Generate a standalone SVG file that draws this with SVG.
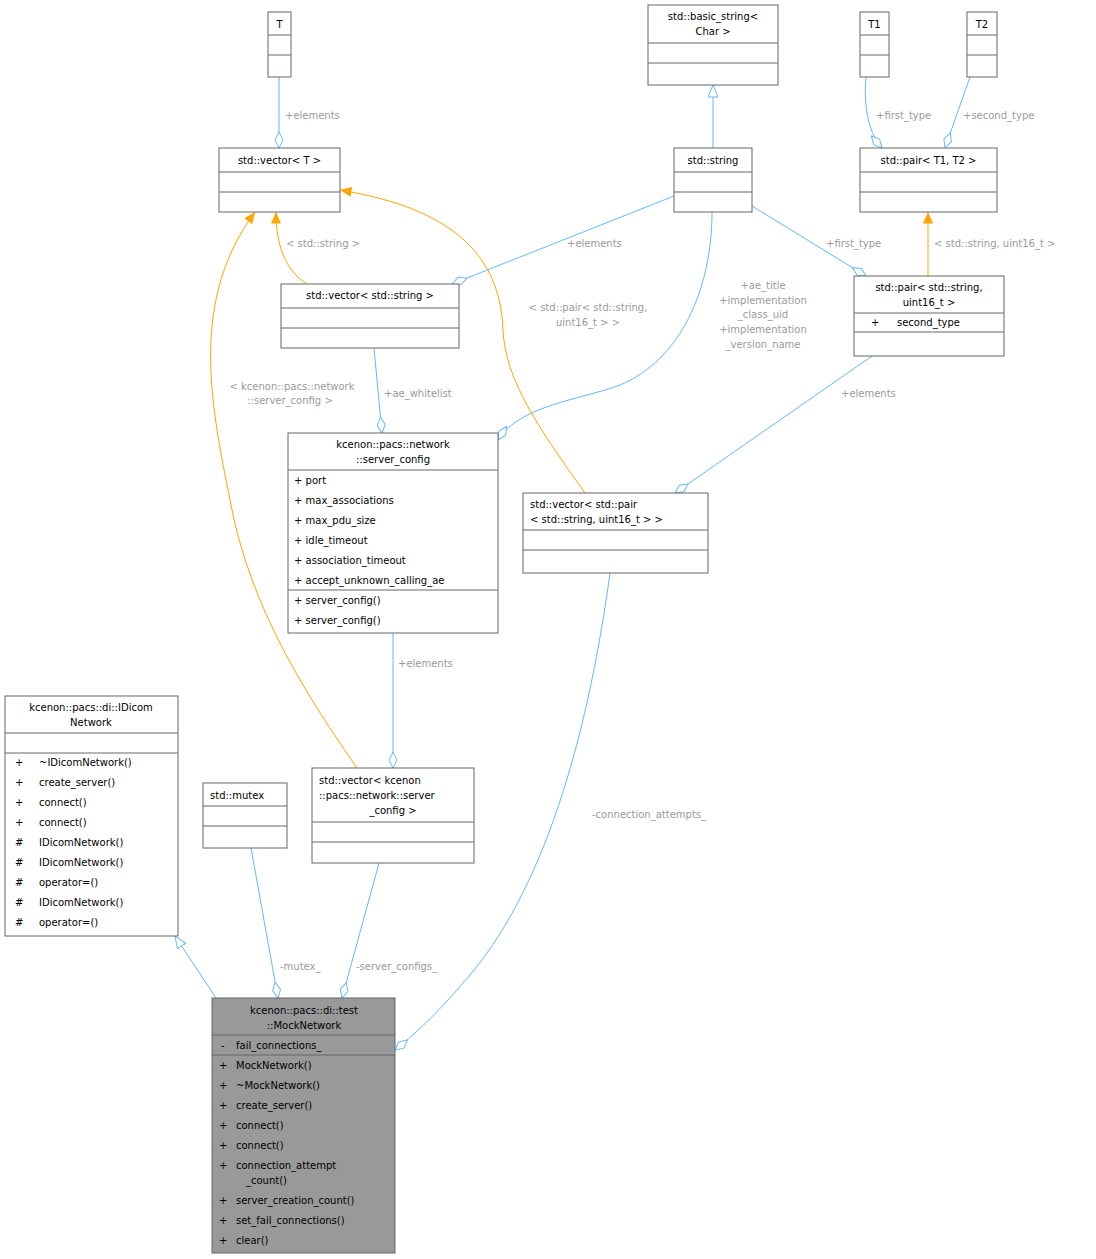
<svg xmlns="http://www.w3.org/2000/svg" width="1096" height="1259" viewBox="0 0 1096 1259">
<style>
text{font-family:"DejaVu Sans","Liberation Sans",sans-serif;font-size:10px;fill:#000}
.n rect,.n line{stroke:#666;stroke-width:1;fill:#fff}
.n line{fill:none}
.g rect{fill:#999}
.c text{fill:#9a9a9a}
.c path{fill:none;stroke-width:1}
.b{stroke:#63b8ff}
.o{stroke:#ffa500}
.m{text-anchor:middle}
</style>
<defs>
<marker id="d" markerUnits="userSpaceOnUse" viewBox="0 0 17 9" refX="16.5" refY="4.5" markerWidth="17" markerHeight="9" orient="auto"><path d="M0.5,4.5 L8.5,0.5 L16.5,4.5 L8.5,8.5 Z" fill="#fff" stroke="#63b8ff"/></marker>
<marker id="a" markerUnits="userSpaceOnUse" viewBox="0 0 12 10" refX="11.5" refY="5" markerWidth="12" markerHeight="10" orient="auto"><path d="M0,0 L11.5,5 L0,10 Z" fill="#ffa500"/></marker>
<marker id="t" markerUnits="userSpaceOnUse" viewBox="0 0 13 11" refX="12.5" refY="5.5" markerWidth="13" markerHeight="11" orient="auto"><path d="M0.5,0.5 L12.5,5.5 L0.5,10.5 Z" fill="#fff" stroke="#63b8ff"/></marker>
</defs>
<g class="c">
<path class="b" d="M279,77 L279,148" marker-end="url(#d)"/><text x="285" y="119">+elements</text>
<path class="b" d="M713,148 L713,85" marker-end="url(#t)"/>
<path class="b" d="M866,77 C864,100 866,130 882,148" marker-end="url(#d)"/><text x="876" y="119">+first_type</text>
<path class="b" d="M970,77 L945,148" marker-end="url(#d)"/><text x="963" y="119">+second_type</text>
<path class="o" d="M307,284 C285,270 276,245 276,212" marker-end="url(#a)"/><text x="286" y="247">&lt; std::string &gt;</text>
<path class="b" d="M674,196 L452,284" marker-end="url(#d)"/><text x="567" y="247">+elements</text>
<path class="b" d="M752,206 L866,276" marker-end="url(#d)"/><text x="826" y="247">+first_type</text>
<path class="o" d="M928,276 L928,212" marker-end="url(#a)"/><text x="934" y="247">&lt; std::string, uint16_t &gt;</text>
<path class="b" d="M712,212 C712,290 680,360 620,385 C580,400 520,405 498,440" marker-end="url(#d)"/>
<text class="m" x="763" y="289">+ae_title</text><text class="m" x="763" y="304">+implementation</text><text class="m" x="763" y="318">_class_uid</text><text class="m" x="763" y="333">+implementation</text><text class="m" x="763" y="348">_version_name</text>
<path class="o" d="M585,493 C540,430 505,380 503,330 C500,240 430,205 340,190" marker-end="url(#a)"/><text class="m" x="588" y="311">&lt; std::pair&lt; std::string,</text><text class="m" x="588" y="326">uint16_t &gt; &gt;</text>
<path class="b" d="M872,356 L675,493" marker-end="url(#d)"/><text x="841" y="397">+elements</text>
<path class="b" d="M374,348 L382,433" marker-end="url(#d)"/><text x="384" y="397">+ae_whitelist</text>
<path class="o" d="M357,768 C310,700 250,610 230,500 C210,400 190,300 255,212" marker-end="url(#a)"/><text class="m" x="292" y="390">&lt; kcenon::pacs::network</text><text class="m" x="290" y="404">::server_config &gt;</text>
<path class="b" d="M393,633 L393,768" marker-end="url(#d)"/><text x="398" y="667">+elements</text>
<path class="b" d="M216,998 L175,936" marker-end="url(#t)"/>
<path class="b" d="M251,848 L278,998" marker-end="url(#d)"/><text x="280" y="970">-mutex_</text>
<path class="b" d="M379,863 L342,998" marker-end="url(#d)"/><text x="356" y="970">-server_configs_</text>
<path class="b" d="M610,573 C590,720 550,880 470,975 C440,1010 420,1030 395,1050" marker-end="url(#d)"/><text x="592" y="818">-connection_attempts_</text>
</g>
<g id="T" class="n"><rect x="268" y="12" width="23" height="65"/><line x1="268" y1="35" x2="291" y2="35"/><line x1="268" y1="55" x2="291" y2="55"/><text class="m" x="279.5" y="28">T</text></g>
<g id="basic_string" class="n"><rect x="648" y="5" width="130" height="80"/><line x1="648" y1="43" x2="778" y2="43"/><line x1="648" y1="63" x2="778" y2="63"/><text class="m" x="713" y="20">std::basic_string&lt;</text><text class="m" x="713" y="35">Char &gt;</text></g>
<g id="T1" class="n"><rect x="860" y="12" width="29" height="65"/><line x1="860" y1="35" x2="889" y2="35"/><line x1="860" y1="55" x2="889" y2="55"/><text class="m" x="874.5" y="28">T1</text></g>
<g id="T2" class="n"><rect x="967" y="12" width="30" height="65"/><line x1="967" y1="35" x2="997" y2="35"/><line x1="967" y1="55" x2="997" y2="55"/><text class="m" x="982" y="28">T2</text></g>
<g id="vectorT" class="n"><rect x="219" y="148" width="121" height="64"/><line x1="219" y1="172" x2="340" y2="172"/><line x1="219" y1="192" x2="340" y2="192"/><text class="m" x="279.5" y="164">std::vector&lt; T &gt;</text></g>
<g id="string" class="n"><rect x="674" y="148" width="78" height="64"/><line x1="674" y1="172" x2="752" y2="172"/><line x1="674" y1="192" x2="752" y2="192"/><text class="m" x="713" y="164">std::string</text></g>
<g id="pairT" class="n"><rect x="860" y="148" width="137" height="64"/><line x1="860" y1="172" x2="997" y2="172"/><line x1="860" y1="192" x2="997" y2="192"/><text class="m" x="928.5" y="164">std::pair&lt; T1, T2 &gt;</text></g>
<g id="vectorString" class="n"><rect x="281" y="284" width="178" height="64"/><line x1="281" y1="308" x2="459" y2="308"/><line x1="281" y1="328" x2="459" y2="328"/><text class="m" x="370" y="299">std::vector&lt; std::string &gt;</text></g>
<g id="pairString" class="n"><rect x="854" y="276" width="150" height="80"/><line x1="854" y1="313" x2="1004" y2="313"/><line x1="854" y1="332" x2="1004" y2="332"/><text class="m" x="929" y="291">std::pair&lt; std::string,</text><text class="m" x="929" y="306">uint16_t &gt;</text><text x="871" y="326">+</text><text x="897" y="326">second_type</text></g>
<g id="server_config" class="n"><rect x="288" y="433" width="210" height="200"/><line x1="288" y1="470" x2="498" y2="470"/><line x1="288" y1="590" x2="498" y2="590"/>
<text class="m" x="393" y="448">kcenon::pacs::network</text><text class="m" x="393" y="463">::server_config</text>
<text x="294" y="484">+  port</text><text x="294" y="504">+  max_associations</text><text x="294" y="524">+  max_pdu_size</text><text x="294" y="544">+  idle_timeout</text><text x="294" y="564">+  association_timeout</text><text x="294" y="584">+  accept_unknown_calling_ae</text><text x="294" y="604">+  server_config()</text><text x="294" y="624">+  server_config()</text></g>
<g id="vectorPair" class="n"><rect x="523" y="493" width="185" height="80"/><line x1="523" y1="530" x2="708" y2="530"/><line x1="523" y1="550" x2="708" y2="550"/><text x="530" y="508">std::vector&lt; std::pair</text><text x="530" y="523">&lt; std::string, uint16_t &gt; &gt;</text></g>
<g id="IDicomNetwork" class="n"><rect x="5" y="696" width="173" height="240"/><line x1="5" y1="733" x2="178" y2="733"/><line x1="5" y1="753" x2="178" y2="753"/>
<text class="m" x="91" y="711">kcenon::pacs::di::IDicom</text><text class="m" x="91" y="726">Network</text>
<text x="15" y="766">+</text><text x="39" y="766">~IDicomNetwork()</text><text x="15" y="786">+</text><text x="39" y="786">create_server()</text><text x="15" y="806">+</text><text x="39" y="806">connect()</text><text x="15" y="826">+</text><text x="39" y="826">connect()</text><text x="15" y="846">#</text><text x="39" y="846">IDicomNetwork()</text><text x="15" y="866">#</text><text x="39" y="866">IDicomNetwork()</text><text x="15" y="886">#</text><text x="39" y="886">operator=()</text><text x="15" y="906">#</text><text x="39" y="906">IDicomNetwork()</text><text x="15" y="926">#</text><text x="39" y="926">operator=()</text></g>
<g id="mutex" class="n"><rect x="203" y="783" width="84" height="65"/><line x1="203" y1="806" x2="287" y2="806"/><line x1="203" y1="826" x2="287" y2="826"/><text x="210" y="799">std::mutex</text></g>
<g id="vectorServerConfig" class="n"><rect x="312" y="768" width="162" height="95"/><line x1="312" y1="822" x2="474" y2="822"/><line x1="312" y1="842" x2="474" y2="842"/><text x="319" y="784">std::vector&lt; kcenon</text><text x="319" y="799">::pacs::network::server</text><text class="m" x="393" y="814">_config &gt;</text></g>
<g id="MockNetwork" class="n g"><rect x="212" y="998" width="183" height="255"/><line x1="212" y1="1035" x2="395" y2="1035"/><line x1="212" y1="1055" x2="395" y2="1055"/>
<text class="m" x="304" y="1014">kcenon::pacs::di::test</text><text class="m" x="304" y="1029">::MockNetwork</text>
<text x="221" y="1049">-</text><text x="236" y="1049">fail_connections_</text>
<text x="219" y="1069">+</text><text x="236" y="1069">MockNetwork()</text><text x="219" y="1089">+</text><text x="236" y="1089">~MockNetwork()</text><text x="219" y="1109">+</text><text x="236" y="1109">create_server()</text><text x="219" y="1129">+</text><text x="236" y="1129">connect()</text><text x="219" y="1149">+</text><text x="236" y="1149">connect()</text><text x="219" y="1169">+</text><text x="236" y="1169">connection_attempt</text><text x="246" y="1184">_count()</text><text x="219" y="1204">+</text><text x="236" y="1204">server_creation_count()</text><text x="219" y="1224">+</text><text x="236" y="1224">set_fail_connections()</text><text x="219" y="1244">+</text><text x="236" y="1244">clear()</text></g>
</svg>
